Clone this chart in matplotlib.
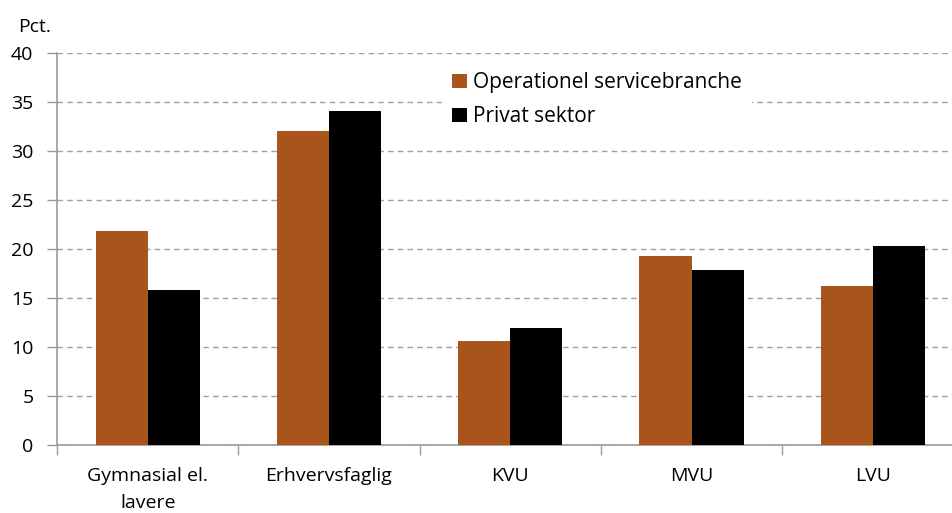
import matplotlib
matplotlib.use("Agg")
import matplotlib.pyplot as plt
import numpy as np

categories = ["Gymnasial el.\nlavere", "Erhvervsfaglig", "KVU", "MVU", "LVU"]
operationel = [21.8, 32.0, 10.6, 19.3, 16.2]
privat = [15.8, 34.1, 11.9, 17.9, 20.3]
series_names = ["Operationel servicebranche", "Privat sektor"]
yticks = [0, 5, 10, 15, 20, 25, 30, 35, 40]

plt.rcParams['font.family'] = ['Open Sans', 'DejaVu Sans']
FS = 14

fig = plt.figure(figsize=(9.53, 5.13), dpi=100)
W, H = 953, 513
x0, x1 = 57, 952
y0, y1 = 445, 53
ax = fig.add_axes([x0 / W, (H - y0) / H, (x1 - x0) / W, (y0 - y1) / H])

x = np.arange(len(categories))
bw = 0.2875
ax.bar(x - bw / 2, operationel, bw, color="#A9541A", label=series_names[0], zorder=3)
ax.bar(x + bw / 2, privat, bw, color="#000000", label=series_names[1], zorder=3)

ax.set_yticks(yticks)
ax.set_xticks(x)
ax.set_xticklabels(categories, fontsize=FS, linespacing=1.6)
ax.tick_params(axis='y', labelsize=FS, length=7, color="#999999", width=1, pad=10)
ax.tick_params(axis='x', length=0, pad=16)
# category boundary ticks
ax.set_xticks(np.arange(-0.5, 4.6, 1), minor=True)
ax.tick_params(axis='x', which='minor', length=7, color="#999999", width=1, direction='out')
ax.set_ylim(0, 40)
ax.set_xlim(-0.5, -0.5 + (x1 - x0) / 181.3)

ax.yaxis.grid(True, linestyle=(0, (4, 3)), color="#A0A0A0", linewidth=1, zorder=0)
ax.set_axisbelow(True)
for s in ["top", "right"]:
    ax.spines[s].set_visible(False)
ax.spines["left"].set_color("#999999")
ax.spines["bottom"].set_color("#999999")
ax.spines["left"].set_linewidth(1.2)
ax.spines["bottom"].set_linewidth(1.2)

leg = ax.legend(loc="upper left", bbox_to_anchor=((443 - x0) / (x1 - x0), 1 - (63 - y1) / (y0 - y1)),
                frameon=True, prop={'size': 15}, handlelength=0.7, handleheight=0.7,
                handletextpad=0.3, borderpad=0.45, labelspacing=0.62, borderaxespad=0)
leg.get_frame().set_edgecolor("white")
leg.get_frame().set_facecolor("white")
leg.get_frame().set_alpha(1)
leg.get_frame().set_boxstyle("square", pad=0)
leg.set_zorder(5)

fig.text(18 / W, 1 - 27 / H, "Pct.", fontsize=FS, va="center", ha="left")

fig.savefig("out.png", dpi=100)
